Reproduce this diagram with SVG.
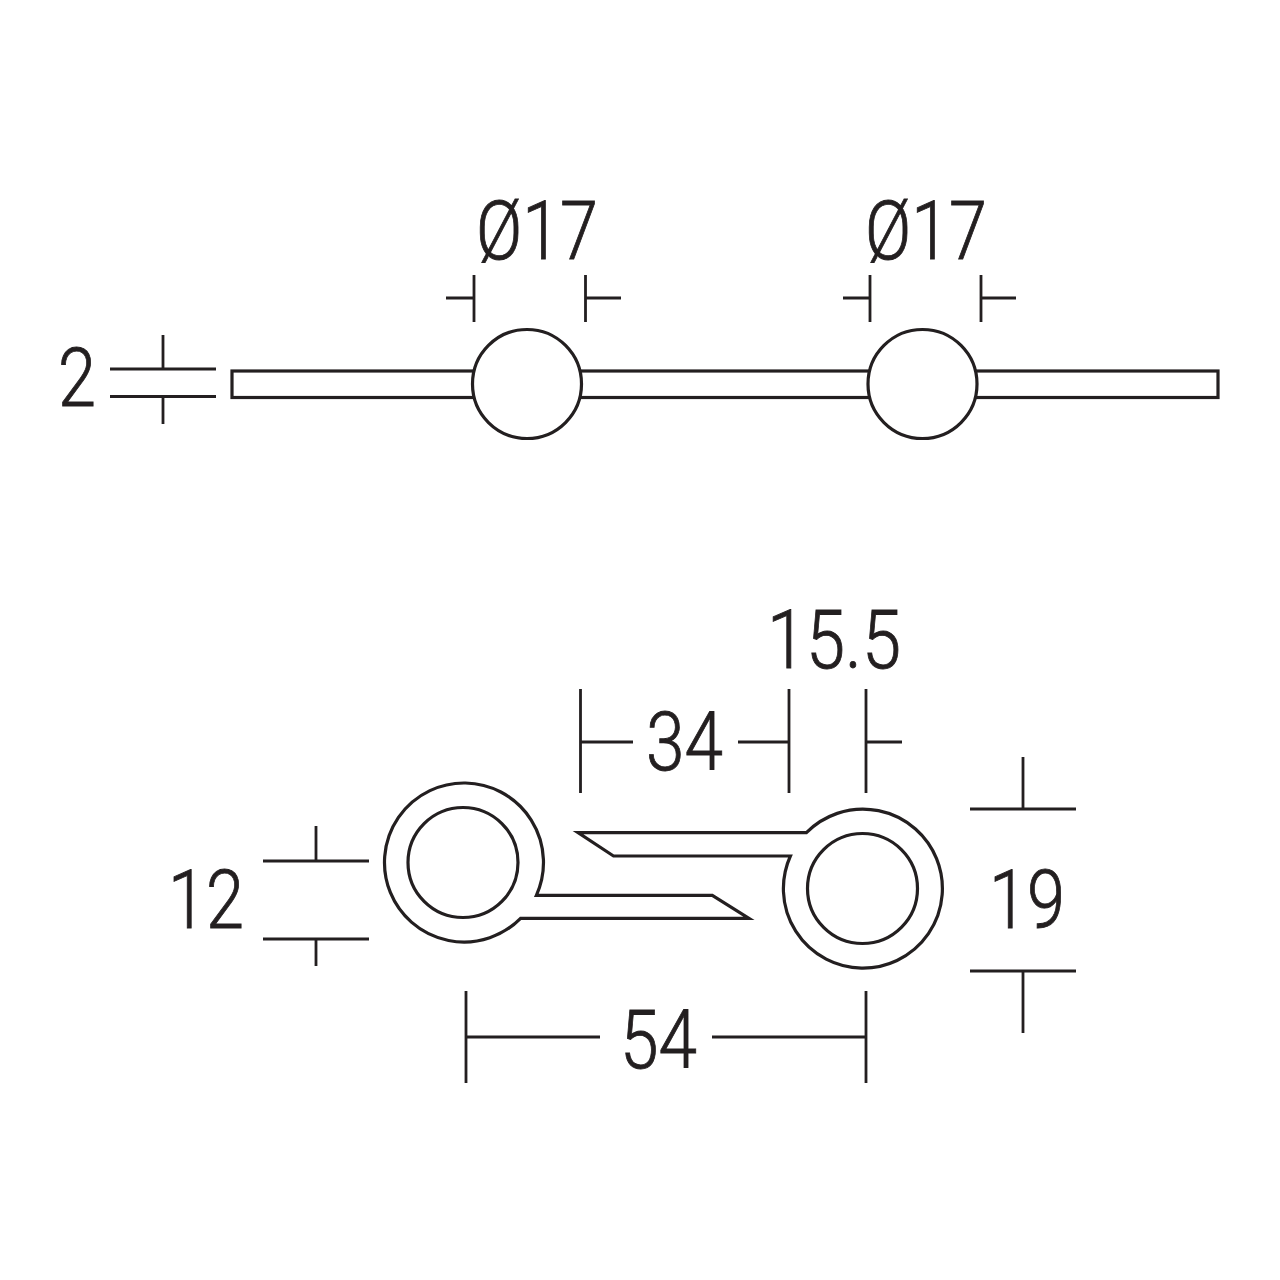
<svg xmlns="http://www.w3.org/2000/svg" width="1280" height="1280" viewBox="0 0 1280 1280">
<style>
.o{fill:#fff;stroke:#231f20;stroke-width:3.2;stroke-miterlimit:10}
.d{fill:none;stroke:#231f20;stroke-width:2.8}
text{font-family:"Roboto","Liberation Sans",sans-serif;font-weight:300;font-size:81px;fill:#231f20;stroke:#231f20;stroke-width:.9}
</style>
<rect width="1280" height="1280" fill="#fff"/>
<g id="top-view">
<rect class="o" x="232" y="371" width="986" height="26.500"/>
<circle class="o" cx="527" cy="384" r="54.500"/>
<circle class="o" cx="922.500" cy="384" r="54.500"/>
</g>
<g id="left-eye">
<path class="o" d="M536.400 895.300A79.500 79.500 0 1 0 520.600 918.300H749L712.300 895.300Z"/>
<circle class="o" cx="463" cy="862.500" r="55"/>
</g>
<g id="right-eye">
<path class="o" d="M790.400 856A79.500 79.500 0 1 0 806.400 832.700H578L613.500 856Z"/>
<circle class="o" cx="862.500" cy="888.500" r="55"/>
</g>
<g id="dimensions" class="d">
<path d="M110 369H216M110 396.500H216M163 335V369M163 397V424"/>
<path d="M474 275V322M446 298H474M585.500 275V322M585.500 298H621"/>
<path d="M870 275V322M843 298H870M981 275V322M981 298H1016"/>
<path d="M580.500 689V793M580.500 742H633M738 742H789M789 689V793M866 689V793M866 742H902"/>
<path d="M970 809H1076M1023 757V809M970 971H1076M1023 971V1033"/>
<path d="M263 861H369M316 826V861M263 939H369M316 939V966"/>
<path d="M466 991V1083M866 991V1083M466 1037H600M712 1037H866"/>
</g>
<g id="labels">
<text x="58" y="406" textLength="38" lengthAdjust="spacingAndGlyphs">2</text>
<text x="476" y="259" textLength="122" lengthAdjust="spacingAndGlyphs">Ø17</text>
<text x="865" y="259" textLength="122" lengthAdjust="spacingAndGlyphs">Ø17</text>
<text x="767" y="668" textLength="134" lengthAdjust="spacingAndGlyphs">15.5</text>
<text x="646" y="770" textLength="77" lengthAdjust="spacingAndGlyphs">34</text>
<text x="168" y="928" textLength="76" lengthAdjust="spacingAndGlyphs">12</text>
<text x="989" y="928" textLength="76" lengthAdjust="spacingAndGlyphs">19</text>
<text x="620" y="1068" textLength="77" lengthAdjust="spacingAndGlyphs">54</text>
</g>
</svg>
